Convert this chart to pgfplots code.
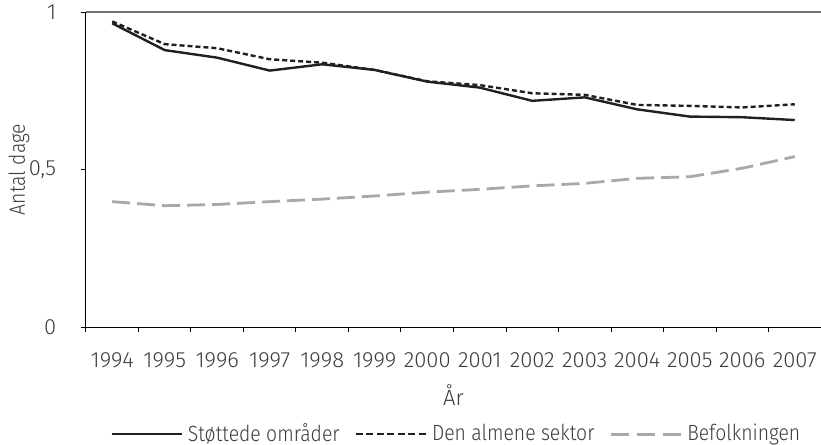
\documentclass[border=0pt]{standalone}
\usepackage{fontspec}
\setmainfont{Fira Sans}[UprightFont={* Light}]
\newfontfamily\legfont{Fira Sans}[UprightFont={* Light}, FakeStretch=0.88]
\usepackage{pgfplots}
\pgfplotsset{compat=1.18}
\definecolor{txt}{HTML}{3C3C3C}
\definecolor{grayline}{HTML}{A8A8A8}
\definecolor{topline}{HTML}{707070}
\definecolor{darkline}{HTML}{231F20}
\begin{document}
\begin{tikzpicture}
\begin{axis}[
  scale only axis, width=367.5pt, height=157.5pt,
  xmin=-0.5, xmax=13.5, ymin=0, ymax=1,
  axis lines*=left,
  axis line style={line width=0.5pt, black},
  xtick={-0.5,0.5,1.5,2.5,3.5,4.5,5.5,6.5,7.5,8.5,9.5,10.5,11.5,12.5,13.5},
  x tick label as interval,
  xticklabels={1994,1995,1996,1997,1998,1999,2000,2001,2002,2003,2004,2005,2006,2007},
  ytick={0,0.5,1}, yticklabels={0,{0,5},1},
  tick align=outside, major tick length=2.5pt,
  tick style={black, line width=0.5pt},
  ticklabel style={font=\fontsize{11}{13}\selectfont, text=txt},
  yticklabel style={xshift=-8.9pt},
  xticklabel style={yshift=-7pt},
  /pgf/number format/assume math mode=true,
  ylabel={Antal dage},
  ylabel style={at={(axis description cs:-0.0912,0.5)}, anchor=center, font=\legfont\fontsize{11}{13}\selectfont, text=txt},
  xlabel={År},
  xlabel style={at={(axis description cs:0.5,-0.2159)}, anchor=center, font=\fontsize{11}{13}\selectfont, text=txt},
  legend columns=3,
  legend style={draw=none, at={(axis description cs:0.506,-0.340)}, anchor=center,
    font=\legfont\fontsize{11}{13}\selectfont, text=txt, inner sep=0pt,
    nodes={inner xsep=2.5pt, inner ysep=0.5pt},
    /tikz/every even column/.append style={column sep=5pt}},
  legend image code/.code={\draw[#1] (0pt,0pt) -- (35pt,0pt);},
  clip=false,
]
\addplot[darkline, line width=1.2pt] coordinates {
(0,0.964) (1,0.879) (2,0.855) (3,0.814) (4,0.834) (5,0.816) (6,0.779)
(7,0.760) (8,0.718) (9,0.729) (10,0.691) (11,0.668) (12,0.666) (13,0.657)};
\addlegendentry{Støttede områder}
\addplot[darkline, line width=1.2pt, dash pattern=on 2.5pt off 1.5pt,
  legend image code/.code={\draw[darkline, line width=1.2pt, dash pattern=on 3.5pt off 1.75pt] (0pt,0pt) -- (35pt,0pt);}] coordinates {
(0,0.970) (1,0.898) (2,0.885) (3,0.850) (4,0.839) (5,0.816) (6,0.780)
(7,0.768) (8,0.742) (9,0.737) (10,0.705) (11,0.702) (12,0.697) (13,0.707)};
\addlegendentry{Den almene sektor}
\addplot[grayline, line width=1.4pt, dash pattern=on 9pt off 3.5pt,
  legend image code/.code={\draw[grayline, line width=1.4pt, dash pattern=on 9pt off 4pt] (0pt,0pt) -- (35pt,0pt);}] coordinates {
(0,0.398) (1,0.385) (2,0.389) (3,0.398) (4,0.406) (5,0.416) (6,0.428)
(7,0.437) (8,0.448) (9,0.456) (10,0.472) (11,0.477) (12,0.504) (13,0.541)};
\addlegendentry{Befolkningen}
\draw[topline, line width=0.6pt] (rel axis cs:0,1) -- (rel axis cs:1,1);
\coordinate (SW) at (rel axis cs:0,0);
\coordinate (NE) at (rel axis cs:1,1);
\end{axis}
\pgfresetboundingbox
\path[use as bounding box] ([shift={(-43pt,-59pt)}]SW) rectangle ([shift={(0pt,6pt)}]NE);
\end{tikzpicture}
\end{document}
